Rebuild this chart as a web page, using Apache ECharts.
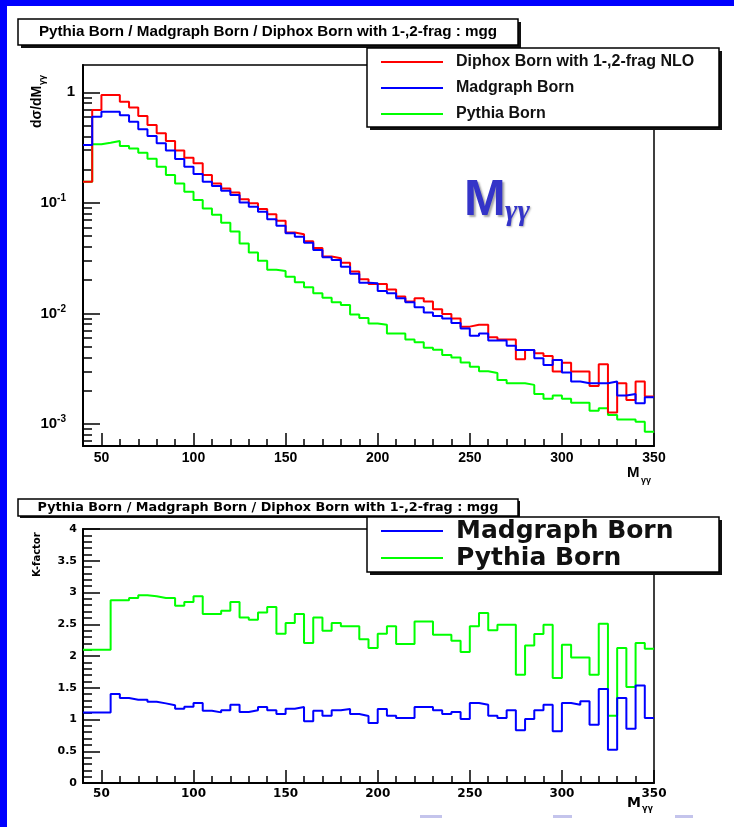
<!DOCTYPE html>
<html>
<head>
<meta charset="utf-8">
<title>mgg</title>
<script src="https://cdn.jsdelivr.net/npm/echarts@6/dist/echarts.min.js"></script>
<style>
  html, body { margin: 0; padding: 0; background: #0000ff; }
  #paper { position: absolute; left: 7px; top: 6px; width: 727px; height: 821px; background: #fff; }
  #chart { position: absolute; left: 0; top: 0; width: 734px; height: 827px; }
</style>
</head>
<body>
<div id="paper"></div>
<div id="chart"></div>
<script>
// bin edges of M_gg (GeV), 62 bins
var binEdges = [40, 45, 50, 55, 60, 65, 70, 75, 80, 85, 90, 95, 100, 105, 110, 115, 120, 125, 130, 135,
    140, 145, 150, 155, 160, 165, 170, 175, 180, 185, 190, 195, 200, 205, 210, 215, 220, 225, 230, 235,
    240, 245, 250, 255, 260, 265, 270, 275, 280, 285, 290, 295, 300, 305, 310, 315, 320, 325, 330, 335,
    340, 345, 350];

// top pad: dsigma/dM
var diphoxBorn = [0.155, 0.69, 0.946, 0.946, 0.82, 0.73, 0.61, 0.506, 0.426, 0.363, 0.297, 0.256, 0.228,
    0.179, 0.150, 0.135, 0.124, 0.108, 0.099, 0.088, 0.079, 0.069, 0.054, 0.052, 0.045, 0.039, 0.0327,
    0.0315, 0.0288, 0.0239, 0.0204, 0.0185, 0.0185, 0.0165, 0.0142, 0.0128, 0.0137, 0.0128, 0.0109,
    0.0099, 0.0090, 0.0076, 0.0079, 0.0079, 0.0061, 0.0058, 0.0058, 0.00385, 0.00468, 0.00436, 0.00413,
    0.00298, 0.00359, 0.00298, 0.00298, 0.00221, 0.00347, 0.00127, 0.00234, 0.00165, 0.00242, 0.00177];
var madgraphBorn = [0.334, 0.60, 0.668, 0.668, 0.62, 0.542, 0.463, 0.403, 0.346, 0.297, 0.249, 0.212,
    0.182, 0.155, 0.142, 0.129, 0.118, 0.101, 0.092, 0.083, 0.071, 0.062, 0.053, 0.0495, 0.0437, 0.0375,
    0.0322, 0.0305, 0.0265, 0.0228, 0.019, 0.0188, 0.016, 0.0152, 0.0137, 0.0126, 0.0114, 0.0102, 0.0095,
    0.0090, 0.0082, 0.0073, 0.0063, 0.0066, 0.0057, 0.0057, 0.0051, 0.00468, 0.00468, 0.00393, 0.00342,
    0.0038, 0.00292, 0.00242, 0.00234, 0.00234, 0.00234, 0.00242, 0.00181, 0.00187, 0.00154, 0.00175];
var pythiaBorn = [0.155, 0.339, 0.35, 0.363, 0.327, 0.311, 0.284, 0.251, 0.212, 0.179, 0.150, 0.126,
    0.106, 0.089, 0.078, 0.066, 0.055, 0.043, 0.0355, 0.030, 0.0248, 0.0242, 0.0215, 0.0192, 0.0173,
    0.0152, 0.0139, 0.0126, 0.0119, 0.0098, 0.0091, 0.0081, 0.0079, 0.0066, 0.0066, 0.0058, 0.0055,
    0.0049, 0.0047, 0.0042, 0.0040, 0.0036, 0.0033, 0.0030, 0.0029, 0.0025, 0.00234, 0.00234, 0.00226,
    0.00187, 0.00169, 0.00181, 0.00169, 0.00156, 0.00156, 0.00132, 0.00139, 0.00121, 0.0011, 0.0011,
    0.00105, 0.00085];

// bottom pad: K-factor
var kMadgraph = [1.112, 1.112, 1.112, 1.401, 1.338, 1.312, 1.312, 1.28, 1.254, 1.223, 1.17, 1.202, 1.259,
    1.139, 1.112, 1.144, 1.233, 1.118, 1.144, 1.196, 1.144, 1.086, 1.17, 1.196, 0.971, 1.139, 1.06, 1.144,
    1.165, 1.086, 1.055, 0.944, 1.165, 1.06, 1.023, 1.023, 1.196, 1.196, 1.144, 1.086, 1.118, 1.007,
    1.259, 1.233, 1.06, 1.023, 1.144, 0.829, 1.007, 1.144, 1.233, 0.813, 1.259, 1.233, 1.286, 0.918,
    1.48, 0.524, 1.338, 0.855, 1.537, 1.023];
var kPythia = [2.10, 2.10, 2.10, 2.876, 2.876, 2.913, 2.955, 2.94, 2.913, 2.913, 2.792, 2.85, 2.94,
    2.661, 2.661, 2.713, 2.85, 2.608, 2.572, 2.687, 2.771, 2.351, 2.519, 2.661, 2.204, 2.608, 2.398,
    2.519, 2.467, 2.467, 2.262, 2.126, 2.351, 2.467, 2.188, 2.188, 2.545, 2.545, 2.335, 2.335, 2.241,
    2.062, 2.467, 2.677, 2.404, 2.493, 2.493, 1.706, 2.167, 2.346, 2.493, 1.654, 2.178, 1.978, 1.978,
    1.706, 2.509, 1.06, 2.126, 1.512, 2.204, 2.115];

// ticks
var xMajor = [50, 100, 150, 200, 250, 300, 350];
var xMinor = [60, 70, 80, 90, 110, 120, 130, 140, 160, 170, 180, 190, 210, 220, 230, 240,
    260, 270, 280, 290, 310, 320, 330, 340];
var yLogMajor = [0.001, 0.01, 0.1, 1];
var yLogMinor = [0.0007, 0.0008, 0.0009, 0.002, 0.003, 0.004, 0.005, 0.006, 0.007, 0.008, 0.009,
    0.02, 0.03, 0.04, 0.05, 0.06, 0.07, 0.08, 0.09, 0.2, 0.3, 0.4, 0.5, 0.6, 0.7, 0.8, 0.9];
var kMajor = [0, 0.5, 1, 1.5, 2, 2.5, 3, 3.5, 4];
var kMinor = [0.1, 0.2, 0.3, 0.4, 0.6, 0.7, 0.8, 0.9, 1.1, 1.2, 1.3, 1.4, 1.6, 1.7, 1.8, 1.9,
    2.1, 2.2, 2.3, 2.4, 2.6, 2.7, 2.8, 2.9, 3.1, 3.2, 3.3, 3.4, 3.6, 3.7, 3.8, 3.9];

var titleText = "Pythia Born / Madgraph Born / Diphox Born with 1-,2-frag : mgg";

var ARIAL = "'Liberation Sans', Arial, sans-serif",
    WIDE = "'DejaVu Sans', sans-serif";

// histogram -> step points (last edge repeats last bin)
function hist(values) {
    return binEdges.map(function(e, i) {
        return [e, values[Math.min(i, values.length - 1)]];
    });
}

function xAxes(grid, labelFont) {
    return [{
        gridIndex: grid, type: "value", min: 40, max: 350,
        axisLine: { lineStyle: { color: "#000", width: 2 } },
        axisTick: { inside: true, length: 13, customValues: xMajor, lineStyle: { color: "#000", width: 1.5 } },
        axisLabel: { customValues: xMajor, margin: 5, color: "#000", fontWeight: "bold", fontFamily: labelFont.family, fontSize: labelFont.size },
        splitLine: { show: false }
    }, {
        gridIndex: grid, type: "value", min: 40, max: 350, position: "bottom",
        axisLine: { show: false },
        axisTick: { inside: true, length: 7, customValues: xMinor, lineStyle: { color: "#000", width: 1.5 } },
        axisLabel: { show: false },
        splitLine: { show: false }
    }];
}

function box(x, y, w, h, sh) {
    return [{
        type: "rect", z: 10, shape: { x: x + sh, y: y + sh, width: w, height: h },
        style: { fill: "#111" }, silent: true
    }, {
        type: "rect", z: 10, shape: { x: x, y: y, width: w, height: h },
        style: { fill: "#fff", stroke: "#000", lineWidth: 1.5 }, silent: true
    }];
}

function lineSeries(name, data, color, xi, yi) {
    return {
        name: name, type: "line", step: "end", data: hist(data),
        xAxisIndex: xi, yAxisIndex: yi, symbol: "none", color: color,
        lineStyle: { color: color, width: 2 }, animation: false
    };
}

var chart = echarts.init(document.getElementById("chart"));

var graphics = [].concat(
    box(18, 19, 500, 26, 3),
    box(367, 48, 352, 79, 3),
    box(18, 499, 500, 17, 2),
    box(367, 517, 352, 55, 3),
    [{
        type: "text", z: 11, x: 268, y: 32,
        style: { text: titleText, textAlign: "center", textVerticalAlign: "middle", fill: "#000", font: "bold 15.2px " + ARIAL }
    }, {
        type: "text", z: 11, x: 268, y: 508,
        style: { text: titleText, textAlign: "center", textVerticalAlign: "middle", fill: "#000", font: "bold 12.8px " + WIDE }
    }, {
        // y title of the top pad
        type: "group", x: 37, y: 128, rotation: Math.PI / 2,
        children: [{
            type: "text", x: 0, y: 0,
            style: { text: "d\u03c3/dM", textVerticalAlign: "middle", fill: "#000", font: "bold 14px " + ARIAL }
        }, {
            type: "text", x: 43, y: 6,
            style: { text: "\u03b3\u03b3", textVerticalAlign: "middle", fill: "#000", font: "bold 9px " + ARIAL }
        }]
    }, {
        type: "group", x: 37, y: 577, rotation: Math.PI / 2,
        children: [{
            type: "text", x: 0, y: 0,
            style: { text: "K-factor", textVerticalAlign: "middle", fill: "#000", font: "bold 10px " + WIDE }
        }]
    }, {
        type: "text", x: 627, y: 465,
        style: { text: "M", fill: "#000", font: "bold 15px " + ARIAL }
    }, {
        type: "text", x: 641, y: 476,
        style: { text: "\u03b3\u03b3", fill: "#000", font: "bold 9px " + ARIAL }
    }, {
        type: "text", x: 627, y: 796,
        style: { text: "M", fill: "#000", font: "bold 14px " + WIDE }
    }, {
        type: "text", x: 642, y: 805,
        style: { text: "\u03b3\u03b3", fill: "#000", font: "bold 8px " + WIDE }
    }, {
        // big label on the top pad
        type: "text", x: 464, y: 176, z: 5,
        style: {
            text: "M", fill: "#3434c8", font: "bold 50px " + ARIAL,
            textShadowColor: "rgba(0,0,0,0.35)", textShadowBlur: 2, textShadowOffsetX: 2, textShadowOffsetY: 2
        }
    }, {
        type: "text", x: 505, y: 197, z: 5,
        style: {
            text: "\u03b3\u03b3", fill: "#3434c8", font: "bold italic 30px 'Liberation Serif', serif",
            textShadowColor: "rgba(0,0,0,0.3)", textShadowBlur: 2, textShadowOffsetX: 1, textShadowOffsetY: 1
        }
    }, {
        type: "rect", shape: { x: 420, y: 815, width: 22, height: 3 }, style: { fill: "#c4c4ec" }, silent: true
    }, {
        type: "rect", shape: { x: 553, y: 815, width: 19, height: 3 }, style: { fill: "#c4c4ec" }, silent: true
    }, {
        type: "rect", shape: { x: 675, y: 815, width: 18, height: 3 }, style: { fill: "#c4c4ec" }, silent: true
    }]
);

var option = {
    animation: false,
    backgroundColor: "transparent",
    grid: [
        { left: 83, top: 65, width: 571, height: 381, show: true, borderColor: "#000", borderWidth: 1.5 },
        { left: 83, top: 529, width: 571, height: 254, show: true, borderColor: "#000", borderWidth: 1.5 }
    ],
    xAxis: [].concat(
        xAxes(0, { family: ARIAL, size: 14 }),
        xAxes(1, { family: WIDE, size: 12 })
    ),
    yAxis: [{
        gridIndex: 0, type: "log", logBase: 10, min: 0.000633, max: 1.765, position: "left",
        axisLine: { lineStyle: { color: "#000", width: 2 } },
        axisTick: { inside: true, length: 17, customValues: yLogMajor, lineStyle: { color: "#000", width: 1.5 } },
        axisLabel: {
            customValues: yLogMajor, margin: 8,
            formatter: function(v) {
                var p = Math.round(Math.log10(v));
                return p === 0 ? "{b|1}" : "{b|10}{s|" + p + "}";
            },
            rich: {
                b: { fontFamily: ARIAL, fontWeight: "bold", fontSize: 15, color: "#000" },
                s: { fontFamily: ARIAL, fontWeight: "bold", fontSize: 10, color: "#000", padding: [0, 9, 9, 0] }
            }
        },
        splitLine: { show: false }
    }, {
        gridIndex: 0, type: "log", logBase: 10, min: 0.000633, max: 1.765, position: "left",
        axisLine: { show: false },
        axisTick: { inside: true, length: 9, customValues: yLogMinor, lineStyle: { color: "#000", width: 1.5 } },
        axisLabel: { show: false },
        splitLine: { show: false }
    }, {
        gridIndex: 1, type: "value", min: 0, max: 4, position: "left",
        axisLine: { lineStyle: { color: "#000", width: 2 } },
        axisTick: { inside: true, length: 17, customValues: kMajor, lineStyle: { color: "#000", width: 1.5 } },
        axisLabel: { customValues: kMajor, margin: 6, color: "#000", fontFamily: WIDE, fontWeight: "bold", fontSize: 11 },
        splitLine: { show: false }
    }, {
        gridIndex: 1, type: "value", min: 0, max: 4, position: "left",
        axisLine: { show: false },
        axisTick: { inside: true, length: 9, customValues: kMinor, lineStyle: { color: "#000", width: 1.5 } },
        axisLabel: { show: false },
        splitLine: { show: false }
    }],
    legend: [{
        data: ["Diphox Born with 1-,2-frag NLO", "Madgraph Born", "Pythia Born"],
        orient: "vertical", left: 381, top: 53, padding: 0, itemGap: 8,
        itemWidth: 62, itemHeight: 2, icon: "rect", selectedMode: false, z: 20,
        textStyle: { fontFamily: ARIAL, fontWeight: "bold", fontSize: 16, lineHeight: 18, color: "#111", padding: [0, 0, 0, 8] }
    }, {
        data: ["Madgraph Born", "Pythia Born"],
        orient: "vertical", left: 381, top: 518, padding: 0, itemGap: 1,
        itemWidth: 62, itemHeight: 2, icon: "rect", selectedMode: false, z: 20,
        textStyle: { fontFamily: WIDE, fontWeight: "bold", fontSize: 25, lineHeight: 26, color: "#111", padding: [0, 0, 0, 8] }
    }],
    graphic: graphics,
    series: [
        lineSeries("Pythia Born", pythiaBorn, "#00ff00", 0, 0),
        lineSeries("Diphox Born with 1-,2-frag NLO", diphoxBorn, "#ff0000", 0, 0),
        lineSeries("Madgraph Born", madgraphBorn, "#0000ff", 0, 0),
        lineSeries("Pythia Born", kPythia, "#00ff00", 2, 2),
        lineSeries("Madgraph Born", kMadgraph, "#0000ff", 2, 2)
    ]
};

chart.setOption(option);
</script>
</body>
</html>
